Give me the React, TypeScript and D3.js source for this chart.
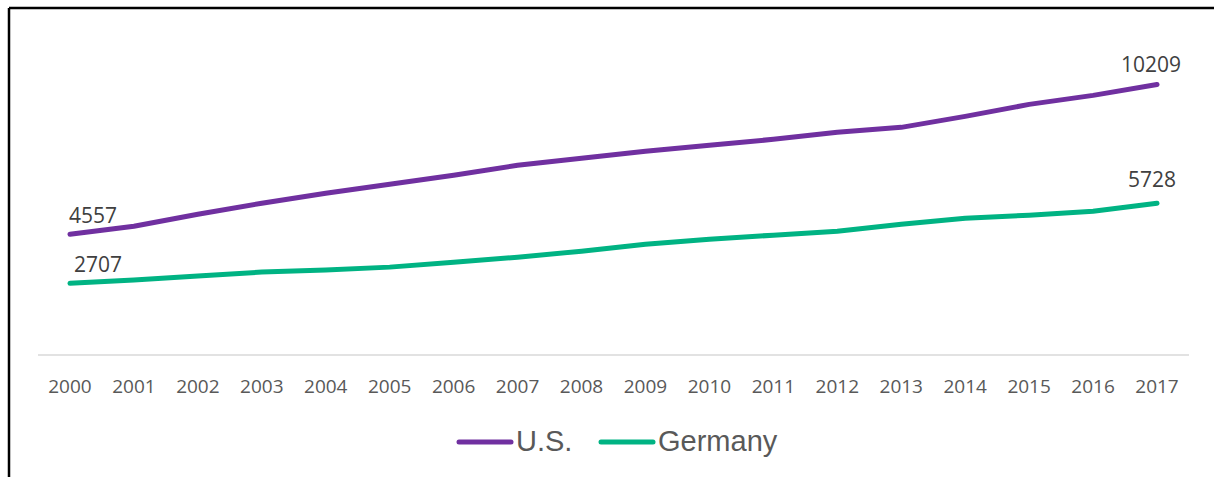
import React from "react";
import * as d3 from "d3";

const years = ["2000","2001","2002","2003","2004","2005","2006","2007","2008","2009","2010","2011","2012","2013","2014","2015","2016","2017"];
const usValues = [4557, 4861, 5313, 5727, 6104, 6443, 6782, 7159, 7423, 7687, 7913, 8139, 8403, 8591, 9005, 9457, 9797, 10209];
const germanyValues = [2707, 2826, 2977, 3128, 3203, 3316, 3504, 3693, 3919, 4183, 4371, 4522, 4672, 4936, 5162, 5275, 5425, 5728];
const seriesNames = ["U.S.", "Germany"];
const seriesColors = ["#7030A0", "#00B383"];

const W = 1214, H = 477;
const left = 38, right = 1189, baseY = 355, topY = 37;

export default function App() {
  const x = d3.scaleBand<string>().domain(years).range([left, right]).padding(0);
  const y = d3.scaleLinear().domain([0, 12000]).range([baseY, topY]);
  const cx = (yr: string) => (x(yr) as number) + x.bandwidth() / 2;
  const series = [usValues, germanyValues];
  const line = d3.line<number>().x((_, i) => cx(years[i])).y((v) => y(v));
  const last = years.length - 1;
  const lbl = { fontFamily: "Open Sans", fontSize: 21, fill: "#404040", textAnchor: "middle" as const };
  return (
    <svg width={W} height={H} style={{ position: "absolute", left: 0, top: 0, display: "block" }}>
      <rect x={0} y={0} width={W} height={H} fill="#fff" />
      <line x1={9} y1={8} x2={W} y2={8} stroke="#000" strokeWidth={2.5} />
      <line x1={9} y1={8} x2={9} y2={H} stroke="#000" strokeWidth={2.5} />
      <line x1={left} x2={right} y1={baseY} y2={baseY} stroke="#d9d9d9" strokeWidth={1.5} />
      {years.map((yr) => (
        <text key={yr} x={cx(yr)} y={393} textAnchor="middle" fontFamily="Open Sans" fontSize={19} fill="#595959">{yr}</text>
      ))}
      {series.map((s, k) => (
        <path key={k} d={line(s) as string} fill="none" stroke={seriesColors[k]} strokeWidth={5} strokeLinecap="round" strokeLinejoin="round" />
      ))}
      <text x={cx(years[0]) + 23} y={y(usValues[0]) - 11} {...lbl}>{usValues[0]}</text>
      <text x={cx(years[0]) + 28} y={y(germanyValues[0]) - 11} {...lbl}>{germanyValues[0]}</text>
      <text x={cx(years[last]) - 6} y={y(usValues[last]) - 12.5} {...lbl}>{usValues[last]}</text>
      <text x={cx(years[last]) - 5} y={y(germanyValues[last]) - 16} {...lbl}>{germanyValues[last]}</text>
      {seriesNames.map((n, k) => {
        const lx = k === 0 ? 459 : 601;
        return (
          <g key={n}>
            <line x1={lx} x2={lx + 52} y1={442} y2={442} stroke={seriesColors[k]} strokeWidth={5} strokeLinecap="round" />
            <text x={lx + 57} y={451} fontFamily="Liberation Sans, Arial" fontSize={29} fill="#595959">{n}</text>
          </g>
        );
      })}
    </svg>
  );
}
